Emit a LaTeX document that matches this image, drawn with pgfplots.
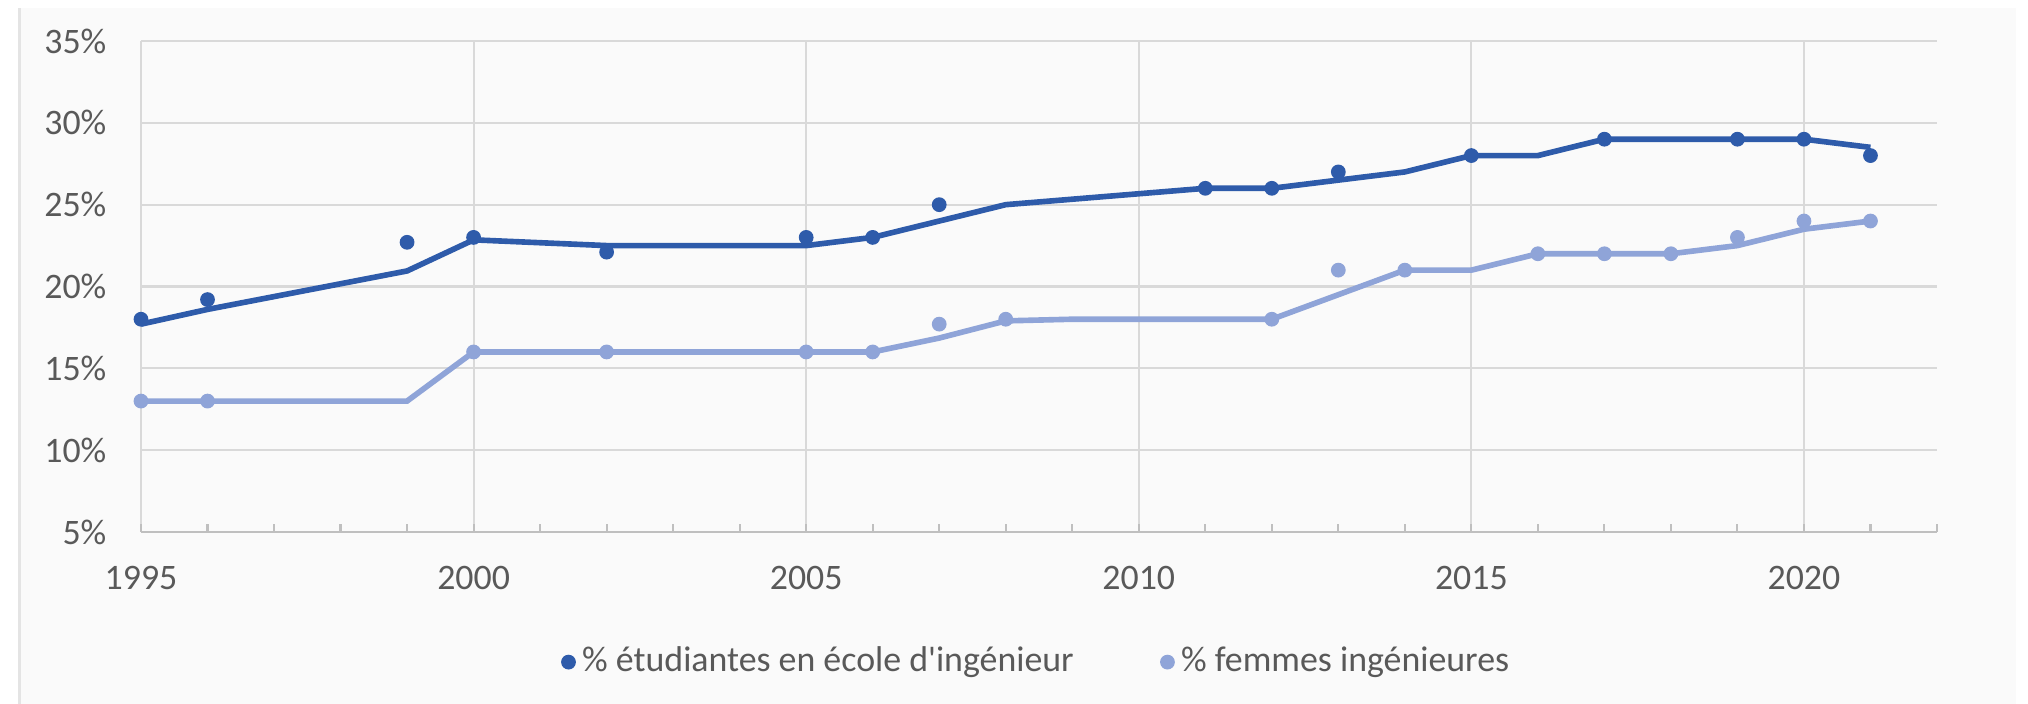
\documentclass[border=0pt]{standalone}
\usepackage{fontspec}
\setmainfont{Carlito}
\newfontfamily\nolig{Carlito}[Ligatures=ResetAll]
\usepackage{pgfplots}
\pgfplotsset{compat=1.18}
\pgfplotsset{dotlegend/.style={legend image code/.code={\draw[##1] plot coordinates {(0cm,0cm)};}}}
\definecolor{darkb}{RGB}{46,91,170}
\definecolor{lightb}{RGB}{143,164,216}
\definecolor{gridc}{RGB}{217,217,217}
\definecolor{axc}{RGB}{191,191,191}
\definecolor{txt}{RGB}{89,89,89}
\definecolor{panel}{RGB}{250,250,250}
\definecolor{panelb}{RGB}{228,228,228}
\begin{document}
\begin{tikzpicture}[x=1cm,y=1cm]
\useasboundingbox (0,0) rectangle (20.28,7.04);
\fill[panel] (0.20,0) rectangle (20.16,6.96);
\draw[panelb, line width=0.3mm] (0.20,0) -- (0.20,6.96);
\begin{axis}[
  at={(1.41cm,1.72cm)}, anchor=south west,
  scale only axis, width=17.96cm, height=4.91cm,
  xmin=1995, xmax=2022, ymin=5, ymax=35,
  axis line style={draw=none},
  xtick={1995,2000,2005,2010,2015,2020},
  xticklabels={1995,2000,2005,2010,2015,2020},
  minor xtick={1995,1996,...,2022},
  ytick={5,10,15,20,25,30,35},
  yticklabels={5\%,10\%,15\%,20\%,25\%,30\%,35\%},
  /pgf/number format/assume math mode=true,
  xmajorgrids, ymajorgrids,
  grid style={gridc, line width=0.6pt},
  minor x grid style={draw=none},
  tick align=inside, xtick pos=bottom,
  major tick length=0.75mm, minor tick length=0.75mm,
  xtick style={axc, line width=0.6pt},
  minor tick style={axc, line width=0.6pt},
  ytick style={draw=none},
  ticklabel style={font=\fontsize{10.2}{12}\selectfont, text=txt},
  xticklabel style={anchor=north, inner sep=0pt, yshift=-3.4mm},
  yticklabel style={anchor=east, inner sep=0pt, xshift=-3.4mm},
  legend style={at={(0.5,-0.265)}, anchor=center, draw=none, fill=none,
    legend columns=2, font=\fontsize{10.2}{12}\selectfont, text=txt,
    /tikz/every even column/.append style={column sep=8mm}},
  legend cell align=left,
  extra description/.code={\draw[axc, line width=0.7pt] (0,0) -- (1,0);},
]
% dark series line
\addplot[darkb, line width=1.6pt, forget plot] coordinates {
(1995,17.7)(1996,18.6)(1999,20.95)(2000,22.85)(2002,22.5)(2005,22.5)(2006,23)
(2008,25)(2011,26)(2012,26)(2013,26.5)(2014,27)(2015,28)(2016,28)(2017,29)
(2019,29)(2020,29)(2021,28.5)};
% light series line
\addplot[lightb, line width=1.6pt, forget plot] coordinates {
(1995,13)(1996,13)(1999,13)(2000,16)(2006,16)(2007,16.85)(2008,17.9)(2009,18)
(2012,18)(2014,21)(2015,21)(2016,22)(2018,22)(2019,22.5)(2020,23.5)(2021,24)};
% dark dots
\addplot[only marks, mark=*, mark size=1.9pt, darkb, mark options={draw=none, fill=darkb},
  dotlegend] coordinates {
(1995,18)(1996,19.2)(1999,22.7)(2000,23)(2002,22.1)(2005,23)(2006,23)(2007,25)
(2011,26)(2012,26)(2013,27)(2015,28)(2017,29)(2019,29)(2020,29)(2021,28)};
\addlegendentry{\% étudiantes en école d{\nolig '}ingénieur}
% light dots
\addplot[only marks, mark=*, mark size=1.9pt, lightb, mark options={draw=none, fill=lightb},
  dotlegend] coordinates {
(1995,13)(1996,13)(2000,16)(2002,16)(2005,16)(2006,16)(2007,17.7)(2008,18)
(2012,18)(2013,21)(2014,21)(2016,22)(2017,22)(2018,22)(2019,23)(2020,24)(2021,24)};
\addlegendentry{\% femmes ingénieures}
\end{axis}
\end{tikzpicture}
\end{document}
